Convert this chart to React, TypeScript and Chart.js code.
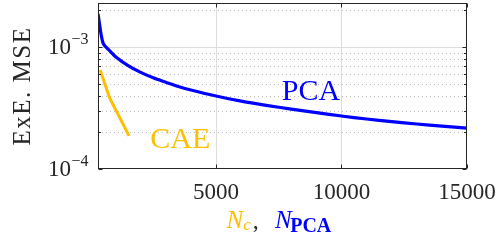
import React, { useEffect, useRef } from 'react';
import { Chart, registerables } from 'chart.js';

Chart.register(...registerables);

// ---- data ----
const pcaN = [300, 500, 750, 1000, 1500, 2000, 2500, 3000, 3500, 4000, 5000, 6000, 7000, 8000, 9000, 10000, 11000, 12000, 13000, 14000, 15000];
const pcaMSE = [1.88e-3, 1.08e-3, 9.4e-4, 8.35e-4, 7.05e-4, 6.2e-4, 5.6e-4, 5.15e-4, 4.75e-4, 4.45e-4, 3.97e-4, 3.6e-4, 3.33e-4, 3.1e-4, 2.9e-4, 2.72e-4, 2.57e-4, 2.45e-4, 2.34e-4, 2.25e-4, 2.16e-4];
const caeN = [384, 768, 1536];
const caeMSE = [6.5e-4, 3.81e-4, 1.87e-4];

const xTickValues = [5000, 10000, 15000];
const yMajorValues = [1e-4, 1e-3];
const yMajorExponents = ['\u22124', '\u22123'];
const yMinorValues = [2e-4, 3e-4, 4e-4, 5e-4, 6e-4, 7e-4, 8e-4, 9e-4, 2e-3];

const seriesLabels = ['PCA', 'CAE'];
const labelPosX = [7620, 2380];
const labelPosY = [3.69e-4, 1.48e-4];

const X_MIN = 300;
const X_MAX = 15000;
const Y_MIN = 1e-4;
const Y_MAX = 2.3e-3;

const BLUE = '#0000FF';
const YELLOW = '#FFBF00';
const AXIS = '#262626';
const FONT = "'Liberation Serif', 'Times New Roman', serif";

const decorPlugin = {
  id: 'decor',
  beforeDatasetsDraw(chart: any) {
    const { ctx, chartArea: a, scales } = chart;
    const x = scales.x;
    const y = scales.y;
    ctx.save();
    // major grid
    ctx.strokeStyle = '#DEDEDE';
    ctx.lineWidth = 1;
    ctx.setLineDash([]);
    for (const v of xTickValues) {
      const px = Math.round(x.getPixelForValue(v)) + 0.5;
      if (px > a.right - 2) continue;
      ctx.beginPath();
      ctx.moveTo(px, a.top);
      ctx.lineTo(px, a.bottom);
      ctx.stroke();
    }
    for (const v of yMajorValues) {
      const py = Math.round(y.getPixelForValue(v)) + 0.5;
      if (py > a.bottom - 2) continue;
      ctx.beginPath();
      ctx.moveTo(a.left, py);
      ctx.lineTo(a.right, py);
      ctx.stroke();
    }
    // minor grid dotted
    ctx.strokeStyle = '#BBBBBB';
    ctx.setLineDash([1, 3]);
    for (const v of yMinorValues) {
      const py = Math.round(y.getPixelForValue(v)) + 0.5;
      ctx.beginPath();
      ctx.moveTo(a.left, py);
      ctx.lineTo(a.right, py);
      ctx.stroke();
    }
    ctx.restore();
  },
  afterDatasetsDraw(chart: any) {
    const { ctx, chartArea: a, scales } = chart;
    const x = scales.x;
    const y = scales.y;
    ctx.save();
    ctx.setLineDash([]);
    // box
    ctx.strokeStyle = AXIS;
    ctx.lineWidth = 1;
    const L = Math.round(a.left) + 0.5;
    const R = Math.round(a.right) - 0.5;
    const T = Math.round(a.top) + 0.5;
    const B = Math.round(a.bottom) - 0.5;
    ctx.strokeRect(L, T, R - L, B - T);
    // ticks
    ctx.beginPath();
    for (const v of xTickValues) {
      const px = Math.round(x.getPixelForValue(v)) + 0.5;
      ctx.moveTo(px, B); ctx.lineTo(px, B - 4);
      ctx.moveTo(px, T); ctx.lineTo(px, T + 4);
    }
    for (const v of yMajorValues) {
      const py = Math.round(y.getPixelForValue(v)) + 0.5;
      ctx.moveTo(L, py); ctx.lineTo(L + 4, py);
      ctx.moveTo(R, py); ctx.lineTo(R - 4, py);
    }
    for (const v of yMinorValues) {
      const py = Math.round(y.getPixelForValue(v)) + 0.5;
      ctx.moveTo(L, py); ctx.lineTo(L + 2.5, py);
      ctx.moveTo(R, py); ctx.lineTo(R - 2.5, py);
    }
    ctx.stroke();

    // x tick labels
    ctx.fillStyle = AXIS;
    ctx.font = `23px ${FONT}`;
    ctx.textAlign = 'center';
    ctx.textBaseline = 'alphabetic';
    for (const t of x.ticks) {
      const px = x.getPixelForValue(t.value);
      ctx.fillText(String(t.value), px, 198.5);
    }
    // y tick labels 10^exp
    yMajorValues.forEach((v, i) => {
      const py = y.getPixelForValue(v);
      const right = a.left - 9.5;
      ctx.font = `16px ${FONT}`;
      const ws = ctx.measureText(yMajorExponents[i]).width;
      ctx.textAlign = 'left';
      ctx.fillText(yMajorExponents[i], right - ws, py + 6.5 - 9.5);
      ctx.font = `23px ${FONT}`;
      const wb = ctx.measureText('10').width;
      ctx.fillText('10', right - ws - wb - 0.5, py + 6.5);
    });

    // series labels
    ctx.font = `30px ${FONT}`;
    ctx.textAlign = 'left';
    ctx.textBaseline = 'alphabetic';
    const colors = [BLUE, YELLOW];
    seriesLabels.forEach((s, i) => {
      ctx.fillStyle = colors[i];
      ctx.fillText(s, x.getPixelForValue(labelPosX[i]), y.getPixelForValue(labelPosY[i]));
    });

    // y title
    ctx.save();
    ctx.fillStyle = AXIS;
    ctx.font = `25px ${FONT}`;
    ctx.translate(30, 86);
    ctx.rotate(-Math.PI / 2);
    ctx.textAlign = 'center';
    (ctx as any).letterSpacing = '1.5px';
    ctx.fillText('ExE. MSE', 0, 0);
    ctx.restore();

    // x title: N_c, N_PCA
    let cx = 226.5;
    const base = 228.3;
    ctx.textAlign = 'left';
    ctx.fillStyle = YELLOW;
    ctx.font = `italic 25px ${FONT}`;
    ctx.fillText('N', cx, base);
    cx += ctx.measureText('N').width;
    ctx.font = `italic 17px ${FONT}`;
    ctx.fillText('c', cx, base + 2);
    cx += ctx.measureText('c').width + 2;
    ctx.fillStyle = AXIS;
    ctx.font = `24px ${FONT}`;
    ctx.fillText(',', cx, base);
    cx = 275;
    ctx.fillStyle = BLUE;
    ctx.font = `italic 25px ${FONT}`;
    ctx.fillText('N', cx, base);
    cx += ctx.measureText('N').width - 1.5;
    ctx.font = `bold 20px ${FONT}`;
    ctx.fillText('PCA', cx, base + 3.5);

    ctx.restore();
  },
};

export default function App() {
  const ref = useRef<HTMLCanvasElement | null>(null);
  useEffect(() => {
    if (!ref.current) return;
    const chart = new Chart(ref.current, {
      type: 'line',
      data: {
        datasets: [
          {
            label: 'PCA',
            data: pcaN.map((n, i) => ({ x: n, y: pcaMSE[i] })),
            borderColor: BLUE,
            borderWidth: 3.2,
            pointRadius: 0,
            tension: 0.3,
            fill: false,
          },
          {
            label: 'CAE',
            data: caeN.map((n, i) => ({ x: n, y: caeMSE[i] })),
            borderColor: YELLOW,
            borderWidth: 3,
            pointRadius: 0,
            tension: 0,
            fill: false,
          },
        ],
      },
      options: {
        animation: false,
        responsive: false,
        devicePixelRatio: 1,
        layout: { padding: { left: 0, right: 30, top: 3, bottom: 0 } },
        plugins: { legend: { display: false }, tooltip: { enabled: false } },
        scales: {
          x: {
            type: 'linear',
            min: X_MIN,
            max: X_MAX,
            grid: { display: false },
            border: { display: false },
            ticks: { display: false },
            afterBuildTicks: (s: any) => {
              s.ticks = xTickValues.map((v) => ({ value: v }));
            },
            afterFit: (s: any) => {
              s.height = 71;
            },
          },
          y: {
            type: 'logarithmic',
            min: Y_MIN,
            max: Y_MAX,
            grid: { display: false },
            border: { display: false },
            ticks: { display: false },
            afterFit: (s: any) => {
              s.width = 98;
            },
          },
        },
      } as any,
      plugins: [decorPlugin],
    });
    return () => chart.destroy();
  }, []);
  return (
    <div style={{ position: 'fixed', left: 0, top: 0, width: 497, height: 240, background: '#fff' }}>
      <canvas ref={ref} width={497} height={240} style={{ display: 'block', width: 497, height: 240 }} />
    </div>
  );
}
